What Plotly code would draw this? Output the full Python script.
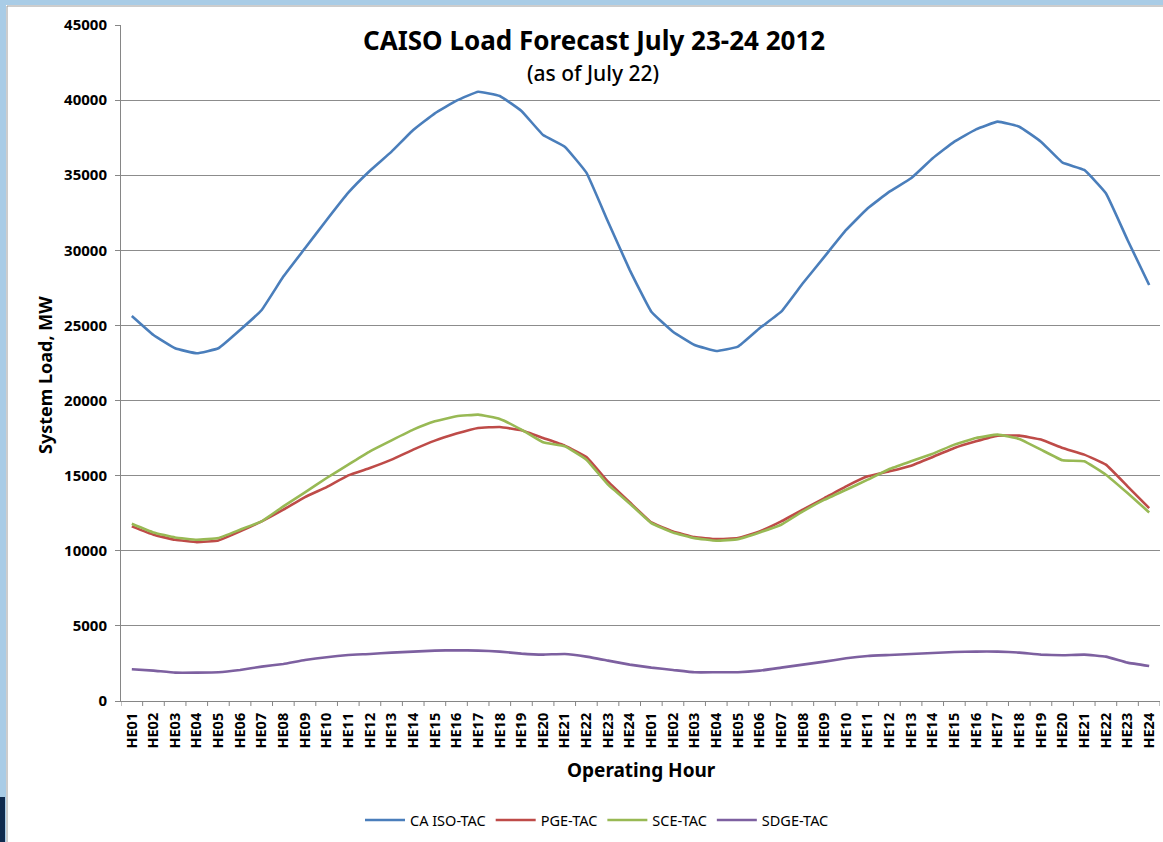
import plotly.graph_objects as go

# operating hours for the two days (July 23 and July 24)
hours = [f"HE{h:02d}" for h in range(1, 25)]
x_labels = hours + hours
x_pos = list(range(len(x_labels)))

caiso_tac = [25630, 24365, 23480, 23145, 23480, 24700, 26030, 28250, 30135, 32020,
             33840, 35300, 36570, 38010, 39120, 39960, 40560, 40275, 39276, 37680,
             36900, 35170, 31900, 28700,
             25915, 24585, 23700, 23300, 23590, 24810, 25915, 27805, 29580, 31355,
             32800, 33905, 34795, 36130, 37235, 38055, 38565, 38230, 37235, 35835,
             35350, 33800, 30690, 27690]

pge_tac = [11622, 11066, 10733, 10577, 10688, 11288, 11955, 12732, 13577, 14243,
           15020, 15510, 16065, 16732, 17332, 17800, 18176, 18243, 18020, 17510,
           17000, 16243, 14600, 13230,
           11888, 11288, 10910, 10777, 10844, 11288, 11955, 12732, 13510, 14290,
           14955, 15290, 15665, 16243, 16843, 17288, 17665, 17665, 17400, 16843,
           16400, 15732, 14290, 12843]

sce_tac = [11800, 11221, 10888, 10733, 10844, 11400, 11955, 12955, 13888, 14844,
           15732, 16621, 17354, 18065, 18620, 18954, 19065, 18776, 18065, 17221,
           16954, 16065, 14400, 13150,
           11844, 11221, 10844, 10666, 10777, 11221, 11733, 12621, 13400, 14066,
           14732, 15443, 15954, 16465, 17065, 17510, 17732, 17443, 16732, 16021,
           15954, 15065, 13843, 12554]

sdge_tac = [2111, 2022, 1889, 1889, 1911, 2066, 2289, 2466, 2733, 2911,
            3066, 3133, 3222, 3289, 3355, 3377, 3355, 3289, 3155, 3089,
            3133, 2955, 2689, 2422,
            2222, 2066, 1911, 1911, 1911, 2022, 2222, 2422, 2622, 2844,
            3000, 3066, 3133, 3200, 3266, 3289, 3289, 3222, 3089, 3044,
            3089, 2955, 2555, 2333]

series = [
    ("CA ISO-TAC", caiso_tac, "#4A7EBB"),
    ("PGE-TAC", pge_tac, "#BE4B48"),
    ("SCE-TAC", sce_tac, "#98B954"),
    ("SDGE-TAC", sdge_tac, "#7D60A0"),
]

fig = go.Figure()
for name, vals, color in series:
    fig.add_trace(go.Scatter(
        x=x_pos, y=vals, name=name, mode="lines",
        line=dict(color=color, width=2.6, shape="spline", smoothing=0.3),
    ))

# plot area in pixels: x 121..1160, y 25..701
L, R, T, B = 121, 1160, 25, 701
W, H = R - L, B - T


def px(x):
    return (x - L) / W


def py(y):
    return (B - y) / H


fig.update_layout(
    width=1163, height=842,
    margin=dict(l=L, r=1163 - R, t=T, b=842 - B, autoexpand=False),
    paper_bgcolor="white", plot_bgcolor="white",
    font=dict(family="Noto Sans", color="#000000"),
    showlegend=True,
    legend=dict(orientation="h", x=px(597), xanchor="center", y=py(820), yanchor="middle",
                font=dict(size=14.5, family="Noto Sans"), itemwidth=40, tracegroupgap=0),
    xaxis=dict(
        type="linear", range=[-0.5, len(x_labels) - 0.5], automargin=False,
        tickmode="array", tickvals=x_pos, ticktext=x_labels, tickangle=-90,
        tickfont=dict(size=14.5, family="Noto Sans", weight="bold"), ticklabelstandoff=5,
        showgrid=False, showline=True, linecolor="#868686", linewidth=1,
        ticks="", zeroline=False,
    ),
    yaxis=dict(
        range=[0, 45000], dtick=5000, tick0=0, tickformat="d", automargin=False,
        tickfont=dict(size=15, family="Noto Sans", weight="bold"), ticklabelstandoff=5,
        showgrid=True, gridcolor="#8C8C8C", gridwidth=1,
        showline=True, linecolor="#868686", linewidth=1,
        ticks="outside", ticklen=5, tickcolor="#868686", zeroline=False,
    ),
)

# x tick marks on category boundaries
for i in range(len(x_labels) + 1):
    fig.add_shape(type="line", xref="x", yref="paper", x0=i - 0.5, x1=i - 0.5,
                  y0=0, y1=-5 / H, line=dict(color="#868686", width=1))

# slide frame around the chart
fig.add_shape(type="rect", xref="paper", yref="paper", x0=px(0), x1=px(6), y0=py(842), y1=py(0),
              fillcolor="#A9CCE6", line_width=0, layer="below")
fig.add_shape(type="rect", xref="paper", yref="paper", x0=px(0), x1=px(1163), y0=py(5), y1=py(0),
              fillcolor="#A9CCE6", line_width=0, layer="below")
fig.add_shape(type="rect", xref="paper", yref="paper", x0=px(0), x1=px(5), y0=py(842), y1=py(797),
              fillcolor="#0F2A4E", line_width=0, layer="below")
fig.add_shape(type="line", xref="paper", yref="paper", x0=px(7), x1=px(7), y0=py(842), y1=py(6),
              line=dict(color="#9A9A9A", width=1))
fig.add_shape(type="line", xref="paper", yref="paper", x0=px(7), x1=px(1163), y0=py(6), y1=py(6),
              line=dict(color="#9A9A9A", width=1))

txt = dict(xref="paper", yref="paper", showarrow=False, xanchor="center", yanchor="middle")
fig.add_annotation(text="<b>CAISO Load Forecast July 23-24 2012</b>", x=px(594), y=py(40),
                   font=dict(size=26, family="Noto Sans"), **txt)
fig.add_annotation(text="(as of July 22)", x=px(593), y=py(73),
                   font=dict(size=21, family="Noto Sans", weight=500), **txt)
fig.add_annotation(text="<b>Operating Hour</b>", x=px(641), y=py(770),
                   font=dict(size=19, family="Noto Sans"), **txt)
fig.add_annotation(text="<b>System Load, MW</b>", x=px(45), y=py(375), textangle=-90,
                   font=dict(size=18, family="Noto Sans"), **txt)

# the page body has a default 8px margin; drop it so the chart fills the window
fig.write_html("out.html", config={"displayModeBar": False},
               post_script="document.body.style.margin='0';document.body.style.overflow='hidden';")
